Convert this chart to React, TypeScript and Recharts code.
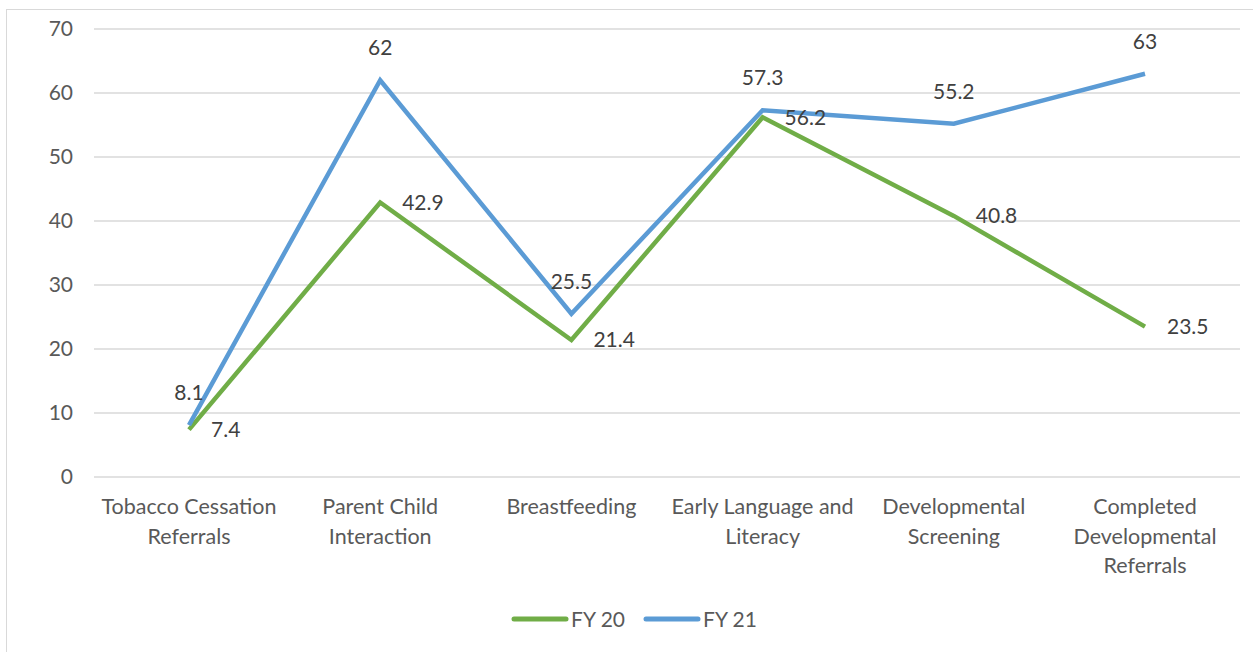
import { LineChart, Line, XAxis, YAxis, CartesianGrid, Legend, LabelList } from "recharts";

const categories = [
  "Tobacco Cessation Referrals",
  "Parent Child Interaction",
  "Breastfeeding",
  "Early Language and Literacy",
  "Developmental Screening",
  "Completed Developmental Referrals",
];

// how each category label wraps on the axis
const categoryLines = [
  ["Tobacco Cessation", "Referrals"],
  ["Parent Child", "Interaction"],
  ["Breastfeeding"],
  ["Early Language and", "Literacy"],
  ["Developmental", "Screening"],
  ["Completed", "Developmental", "Referrals"],
];

const fy20 = [7.4, 42.9, 21.4, 56.2, 40.8, 23.5];
const fy21 = [8.1, 62, 25.5, 57.3, 55.2, 63];

const yTicks = [0, 10, 20, 30, 40, 50, 60, 70];

const data = categories.map((c, i) => ({
  name: c,
  fy20: fy20[i],
  fy21: fy21[i],
}));

const FONT = "Lato, 'Open Sans', sans-serif";
const GREEN = "#70AD47";
const BLUE = "#5B9BD5";

function CategoryTick(props: any) {
  const { x, y, payload } = props;
  const idx = categories.indexOf(payload.value);
  const lines = categoryLines[idx] || [payload.value];
  return (
    <g transform={`translate(${x},${y})`}>
      {lines.map((l, i) => (
        <text
          key={i}
          x={0}
          y={21 + i * 29.5}
          textAnchor="middle"
          dominantBaseline="central"
          fill="#595959"
          fontSize={21.5}
          fontFamily={FONT}
        >
          {l}
        </text>
      ))}
    </g>
  );
}

function LegendContent() {
  const items = [
    { label: "FY 20", color: GREEN },
    { label: "FY 21", color: BLUE },
  ];
  return (
    <div
      style={{
        height: 60,
        display: "flex",
        justifyContent: "center",
        alignItems: "flex-start",
        paddingTop: 14,
        paddingLeft: 28,
        boxSizing: "border-box",
        fontFamily: FONT,
        fontSize: 21,
        color: "#595959",
      }}
    >
      {items.map((it) => (
        <div key={it.label} style={{ display: "flex", alignItems: "center", margin: "0 9px" }}>
          <svg width={58} height={24}>
            <line x1={3} y1={12} x2={55} y2={12} stroke={it.color} strokeWidth={5} strokeLinecap="round" />
          </svg>
          <span style={{ marginLeft: 2 }}>{it.label}</span>
        </div>
      ))}
    </div>
  );
}

export default function App() {
  return (
    <div style={{ position: "fixed", left: 0, top: 0, width: 1253, height: 652, background: "#fff", overflow: "hidden" }}>
      <div
        style={{
          position: "absolute",
          left: 6,
          top: 9,
          width: 1300,
          height: 700,
          border: "1px solid #d9d9d9",
        }}
      />
      <div style={{ position: "absolute", left: 0, top: 0 }}>
        <LineChart width={1253} height={652} data={data} margin={{ top: 29, right: 13, bottom: 0, left: 0 }}>
          <CartesianGrid vertical={false} stroke="#d9d9d9" strokeWidth={1.5} />
          <XAxis
            dataKey="name"
            axisLine={false}
            tickLine={false}
            interval={0}
            height={115}
            padding={{ left: 95, right: 95 }}
            tick={<CategoryTick />}
          />
          <YAxis
            domain={[0, 70]}
            ticks={yTicks}
            width={94}
            axisLine={false}
            tickLine={false}
            tickSize={0}
            tickMargin={21}
            tick={{ fill: "#595959", fontSize: 21, fontFamily: FONT }}
          />
          <Legend verticalAlign="bottom" content={<LegendContent />} />
          <Line
            type="linear"
            dataKey="fy20"
            name="FY 20"
            stroke={GREEN}
            strokeWidth={4.5}
            dot={false}
            isAnimationActive={false}
          >
            <LabelList dataKey="fy20" position="right" offset={22} fill="#404040" fontSize={21} fontFamily={FONT} />
          </Line>
          <Line
            type="linear"
            dataKey="fy21"
            name="FY 21"
            stroke={BLUE}
            strokeWidth={4.5}
            dot={false}
            isAnimationActive={false}
          >
            <LabelList dataKey="fy21" position="top" offset={25} fill="#404040" fontSize={21} fontFamily={FONT} />
          </Line>
        </LineChart>
      </div>
    </div>
  );
}
